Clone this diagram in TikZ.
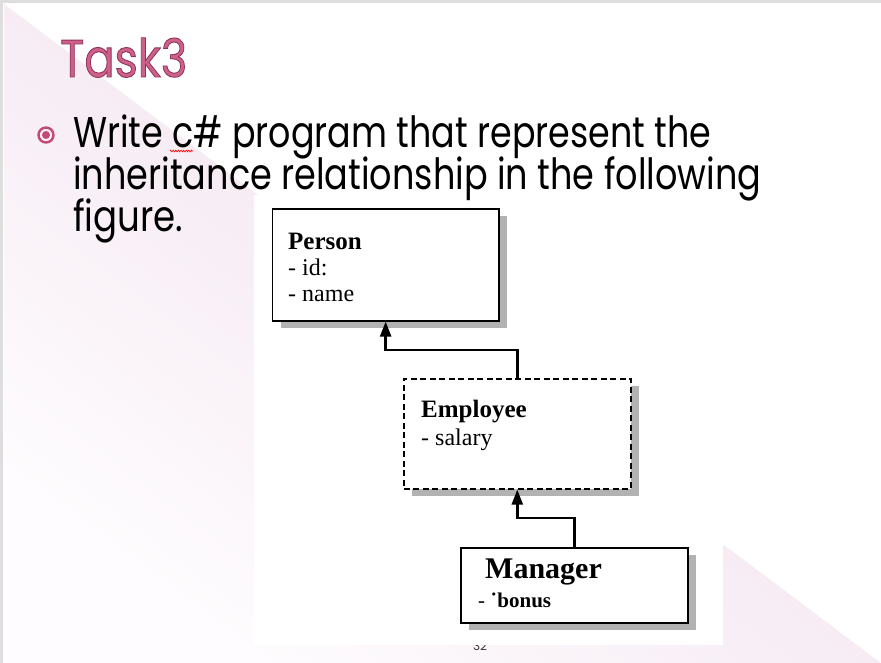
\documentclass[tikz,border=0pt]{standalone}
\usepackage{fontspec}
\usepackage{graphicx}
\setmainfont{Liberation Serif}
\newfontfamily\slidefont{Poppins}
\usetikzlibrary{arrows.meta,shadows,decorations.pathmorphing}

\definecolor{slideborder}{HTML}{DEDEDE}
\definecolor{pinkdeep}{HTML}{EFDCEA}
\definecolor{pinkmid}{HTML}{F5EAF3}
\definecolor{pinklight}{HTML}{FEFCFE}
\definecolor{titlefill}{HTML}{CD6189}
\definecolor{bulletpink}{HTML}{C14A76}
\definecolor{stipple}{HTML}{B2B2B2}

% title glyphs: filled and stroked with a darker pink edge
\newcommand\outlinedtext[1]{%
  \special{pdf:literal direct 0.56 0.20 0.36 RG 0.9 w 2 Tr}#1\special{pdf:literal direct 0 Tr}}
\newcommand\tasktitle{\resizebox{127pt}{\height}{\outlinedtext{Task3}}}

\begin{document}
\begin{tikzpicture}[x=1pt,y=-1pt,
  bodytext/.style={anchor=base west, inner sep=0pt, font=\slidefont\fontsize{43}{50}\selectfont},
  titletext/.style={anchor=base west, inner sep=0pt, font=\slidefont\fontsize{53}{60}\selectfont},
  umlbox/.style={draw=black, line width=1.6pt, fill=white, anchor=north west, inner sep=0pt,
    drop shadow={shadow xshift=8pt, shadow yshift=-7pt, fill=stipple, opacity=1}},
  umltext/.style={anchor=base west, inner sep=0pt, font=\fontsize{24}{28}\selectfont},
  umlhead/.style={anchor=base west, inner sep=0pt, font=\bfseries\fontsize{25}{30}\selectfont},
  inherits/.style={line width=2.4pt, -{Triangle[length=15pt,width=11pt]}}
]
\useasboundingbox (0,0) rectangle (881,663);

% slide background and frame
\fill[white] (0,0) rectangle (881,663);
\fill[slideborder] (0,0) rectangle (881,3.5);
\fill[slideborder] (0,0) rectangle (3,663);

% pale pink diagonal band of the theme
\shade[top color=pinkdeep, middle color=pinkmid, bottom color=pinklight, shading angle=-37]
  (4,4) -- (881,663) -- (4,663) -- cycle;

% slide number, partly hidden under the pasted figure
\node[anchor=base, inner sep=0pt, text=black!80, font=\slidefont\fontsize{12}{14}\selectfont] (slideno) at (480,650) {32};

% white background of the pasted figure
\fill[white] (254,195) rectangle (723,645);

% title
\node[titletext, text=titlefill] (title) at (60,77) {\tasktitle};

% bullet
\node[circle, draw=bulletpink, line width=2.4pt, minimum size=15pt, inner sep=0pt] (bullet) at (46,135) {};
\fill[bulletpink] (bullet.center) circle (4);

% body text
\node[bodytext] (line1) at (73,148) {\resizebox{638pt}{\height}{Write c\# program that represent the}};
\node[bodytext] (line2) at (73,190) {\resizebox{688pt}{\height}{inheritance relationship in the following}};
\node[bodytext] (line3) at (73,232) {\resizebox{110pt}{\height}{figure.}};

% spell-check squiggle under "c"
\coordinate (squiggleA) at (170,151);
\coordinate (squiggleB) at (193,151);
\draw[red, line width=0.6pt, decorate, decoration={zigzag, amplitude=0.9pt, segment length=2.6pt}]
  (squiggleA) -- (squiggleB);

% class boxes
\node[umlbox, minimum width=226.3pt, minimum height=112pt] (person) at (271.7,208) {};
\node[umlbox, dashed, dash pattern=on 6pt off 3.5pt, minimum width=227pt, minimum height=110pt] (employee) at (403,378) {};
\node[umlbox, minimum width=227pt, minimum height=75pt] (manager) at (460,547) {};

% class contents
\node[umlhead] (personname) at (288,250) {Person};
\node[umltext] (personid) at (288,276) {- id:};
\node[umltext] (personattr) at (288,301) {- name};

\node[umlhead] (employeename) at (421,417) {Employee};
\node[umltext] (employeeattr) at (421,445) {- salary};

\node[umlhead, font=\bfseries\fontsize{30}{34}\selectfont] (managername) at (485,578) {Manager};
\node[umltext, font=\fontsize{21}{25}\selectfont] (managerattr) at (478,607) {- \textbf{˙bonus}};

% inheritance connectors
\draw[inherits] (employee.north) -- ++(0,-28) -| (person.south);
\draw[inherits] (manager.north) -- ++(0,-29) -| (employee.south);
\end{tikzpicture}
\end{document}
